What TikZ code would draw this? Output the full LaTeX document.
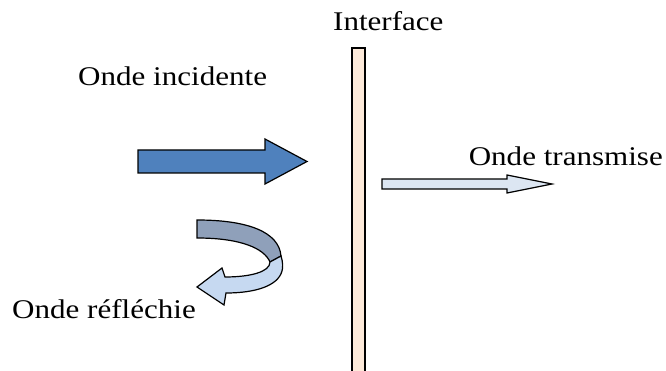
\documentclass[tikz,border=0pt]{standalone}
\usepackage{fontspec}
\setmainfont{Liberation Serif}[FakeStretch=1.15]
\begin{document}
\begin{tikzpicture}[x=1pt,y=-1pt,
  lbl/.style={anchor=base west,inner sep=0pt,font=\fontsize{27}{30}\selectfont,text=black},
  shapeline/.style={draw=black,line width=1.2pt,line join=miter}]
\useasboundingbox (0,0) rectangle (666,371);
\definecolor{bigblue}{HTML}{4F81BD}
\definecolor{paleblue}{HTML}{DCE6F2}
\definecolor{lightblue}{HTML}{C6D9F1}
\definecolor{greyblue}{HTML}{8FA0BA}
\definecolor{peach}{HTML}{FDEADA}
% interface
\begin{scope}
\clip (0,0) rectangle (666,371);
\draw[shapeline,fill=peach] (352,48) rectangle (365,380);
\end{scope}
% incident arrow
\draw[shapeline,fill=bigblue] (138,150) -- (265,150) -- (265,139) -- (307,161.5) -- (265,184) -- (265,173) -- (138,173) -- cycle;
% transmitted arrow
\draw[shapeline,fill=paleblue] (382,179) -- (507,179) -- (507,175) -- (552,184) -- (507,193) -- (507,189) -- (382,189) -- cycle;
% reflected curved arrow: back band
\draw[shapeline,fill=greyblue] (197,220) .. controls (248,220) and (279,232) .. (281,256)
  -- (270,262) .. controls (264,248) and (240,238) .. (197,238) -- cycle;
% front band with head
\draw[shapeline,fill=lightblue] (281,256) .. controls (283,262) and (283,268) .. (282,271)
  .. controls (278,286) and (255,293) .. (226,293) -- (224,305) -- (197,287) -- (222,268) -- (225,277)
  .. controls (250,277) and (270,272) .. (270,262) -- cycle;
% labels
\node[lbl] (interface) at (333,31) {Interface};
\node[lbl] (incidente) at (78,86) {Onde incidente};
\node[lbl,anchor=base east] (transmise) at (663,165.5) {Onde transmise};
\node[lbl] (reflechie) at (12,318) {Onde réfléchie};
\end{tikzpicture}
\end{document}
